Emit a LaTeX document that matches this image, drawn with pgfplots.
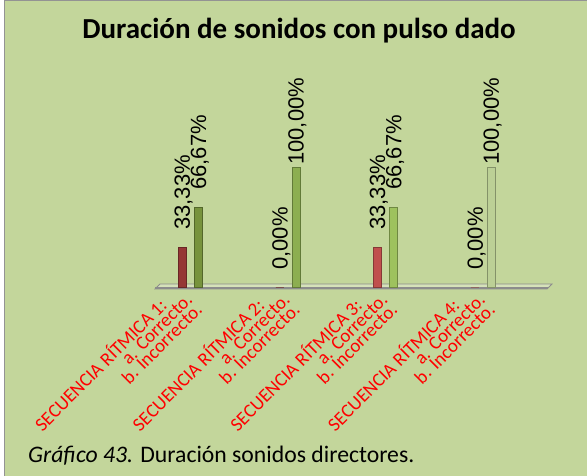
\documentclass[border=0pt]{standalone}
\usepackage{pgfplots}
\pgfplotsset{compat=1.18}
\usepackage{fontspec}
\setmainfont{Carlito}
\newfontfamily\arialf{Liberation Sans}
\definecolor{bg}{RGB}{195,214,155}
\definecolor{rA}{RGB}{149,55,53}
\definecolor{gA}{RGB}{119,147,60}
\definecolor{rB}{RGB}{160,74,72}
\definecolor{gB}{RGB}{140,174,80}
\definecolor{rC}{RGB}{192,80,77}
\definecolor{gC}{RGB}{158,194,94}
\definecolor{rD}{RGB}{200,120,115}
\definecolor{gD}{RGB}{188,208,150}
\pgfplotsset{mybar/.style={ybar, bar width=8pt, bar shift=0pt, draw=#1!70!black, line width=0.6pt, fill=#1}}
\begin{document}
\begin{tikzpicture}[x=1pt,y=1pt]
\useasboundingbox (0,0) rectangle (587,475);
\fill[white] (0,0) rectangle (587,475);
\filldraw[fill=bg, draw=gray!85, line width=1pt] (4.5,-5) rectangle (600,474);
% floor
\filldraw[fill=bg!70!white, draw=gray!90, line width=0.8pt] (155,186) -- (547,186) -- (552,191) -- (160,191) -- cycle;
\draw[gray!90, line width=2pt] (155,187) -- (548,187);
\node[font=\bfseries\fontsize{29}{34}\selectfont, anchor=base] at (299,436) {Duración de sonidos con pulso dado};
\node[font=\fontsize{23.7}{28}\selectfont, anchor=base west, inner sep=0pt] at (28,13) {\textit{Gráfico 43.} Duración sonidos directores.};
\begin{axis}[
  at={(155pt,188pt)}, anchor=south west, scale only axis,
  width=397pt, height=120pt,
  xmin=-0.361, xmax=3.706, ymin=0, ymax=100,
  clip=false, axis line style={draw=none},
  ytick=\empty, xtick={0,1,2,3}, major tick length=0pt,
  xticklabels={
    {SECUENCIA RÍTMICA 1:\hspace*{22pt}\\a. Correcto.\hspace*{11pt}\\b. Incorrecto.},
    {SECUENCIA RÍTMICA 2:\hspace*{22pt}\\a. Correcto.\hspace*{11pt}\\b. Incorrecto.},
    {SECUENCIA RÍTMICA 3:\hspace*{22pt}\\a. Correcto.\hspace*{11pt}\\b. Incorrecto.},
    {SECUENCIA RÍTMICA 4:\hspace*{22pt}\\a. Correcto.\hspace*{11pt}\\b. Incorrecto.}},
  xticklabel style={font=\fontsize{19}{14}\selectfont, text=red, xshift=-2.2pt, yshift=-8.4pt, rotate=45, anchor=east, align=right, inner sep=0pt},
  point meta=explicit symbolic,
  nodes near coords={\rotatebox{90}{\arialf\fontsize{22}{24}\selectfont\pgfplotspointmeta}},
  every node near coord/.append style={anchor=south, inner sep=0pt, xshift=1.5pt, yshift=17pt},
]
\addplot[mybar=rA] coordinates {(-0.083,33.33) [33,33\%]};
\addplot[mybar=gA] coordinates {(0.083,66.67) [66,67\%]};
\addplot[mybar=rB] coordinates {(0.917,0) [0,00\%]};
\addplot[mybar=gB, every node near coord/.append style={yshift=-15pt}] coordinates {(1.083,100) [100,00\%]};
\addplot[mybar=rC] coordinates {(1.917,33.33) [33,33\%]};
\addplot[mybar=gC] coordinates {(2.083,66.67) [66,67\%]};
\addplot[mybar=rD] coordinates {(2.917,0) [0,00\%]};
\addplot[mybar=gD, every node near coord/.append style={yshift=-15pt}] coordinates {(3.083,100) [100,00\%]};
\end{axis}
\end{tikzpicture}
\end{document}
